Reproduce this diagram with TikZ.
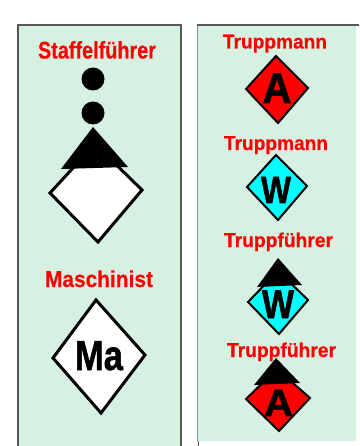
\documentclass[tikz,border=0pt]{standalone}
\usepackage{fontspec}
\setmainfont{Liberation Sans}
\newfontfamily\signfont{Liberation Sans Bold}[FakeBold=1.5]
\newfontfamily\labelfont{Liberation Sans Bold}[FakeBold=0.3]
\definecolor{panel}{HTML}{D6F1E1}
\definecolor{frame}{HTML}{585858}
\definecolor{aqua}{RGB}{0,255,255}
\definecolor{signred}{RGB}{255,0,0}
\newcommand{\fitw}[3]{{\fontsize{#1}{#1}\selectfont\labelfont\resizebox{#2pt}{\height}{#3}}}
\newcommand{\fits}[3]{{\fontsize{#1}{#1}\selectfont\signfont\resizebox{#2pt}{\height}{#3}}}
\tikzset{
  x=1pt,y=-1pt,
  panelbox/.style={fill=panel,draw=none},
  edge/.style={draw=frame,line width=1.5pt},
  rhomb/.style={draw=black,line width=2pt,line join=miter},
  rhombthick/.style={draw=black,line width=3pt,line join=miter},
  rank/.style={fill=black,draw=none},
  label/.style={anchor=base,inner sep=0pt,text=signred},
  sign/.style={anchor=base,inner sep=0pt,text=black}
}
\begin{document}
\begin{tikzpicture}
\useasboundingbox (0,0) rectangle (359,446);
\fill[white] (0,0) rectangle (359,446);
% panels
\fill[panelbox] (18,25) rectangle (181,446);
\fill[panelbox] (197,25) rectangle (356,441);
\draw[edge] (18,446) -- (18,25) -- (181,25) -- (181,446);
\draw[frame!60!panel,line width=.8pt] (197.5,441) -- (197.5,25);
\draw[edge] (197,25) -- (359,25);
\draw[frame,line width=1pt] (198,441) -- (198,446);
% Staffelfuehrer
\node[label] (t1) at (97,58.5) {\fitw{24}{118}{Staffelführer}};
\fill[rank] (93,79) circle (11.5);
\fill[rank] (93,113) circle (11.5);
\path[rhombthick,fill=white] (95,144) -- (142,190) -- (98,242) -- (50,193) -- cycle;
\fill[rank] (93,127) -- (128,167) -- (61,169) -- cycle;
% Maschinist
\node[label] (t2) at (99,287) {\fitw{23}{108}{Maschinist}};
\path[rhombthick,fill=white] (96,300) -- (145,355) -- (101,413) -- (53,358) -- cycle;
\node[sign] (ma) at (99,370) {\fits{42}{48}{Ma}};
% Truppmann A
\node[label] (t3) at (275,48.5) {\fitw{20}{104}{Truppmann}};
\path[rhomb,fill=signred] (276,56) -- (308,88) -- (278,123) -- (246,89) -- cycle;
\node[sign] (a1) at (277,103) {\fits{43}{29}{A}};
% Truppmann W
\node[label] (t4) at (276,150) {\fitw{20}{104}{Truppmann}};
\path[rhomb,fill=aqua] (276,155) -- (307,186) -- (278,220) -- (247,187) -- cycle;
\node[sign] (w1) at (276,203) {\fits{38}{30}{W}};
% Truppfuehrer W
\node[label] (t5) at (278.5,247) {\fitw{20}{109}{Truppführer}};
\path[rhomb,fill=aqua] (278,271) -- (308,300) -- (279,334) -- (248,302) -- cycle;
\fill[rank] (278,258) -- (302,285) -- (257,287) -- cycle;
\node[sign] (w2) at (278,318) {\fits{40}{32}{W}};
% Truppfuehrer A
\node[label] (t6) at (281.5,357) {\fitw{20}{109}{Truppführer}};
\path[rhomb,fill=signred] (277,369) -- (310,398) -- (279,431) -- (246,399) -- cycle;
\fill[rank] (276,358) -- (300,383) -- (254,385) -- cycle;
\node[sign] (a2) at (278.5,416) {\fits{38}{29}{A}};
\end{tikzpicture}
\end{document}
